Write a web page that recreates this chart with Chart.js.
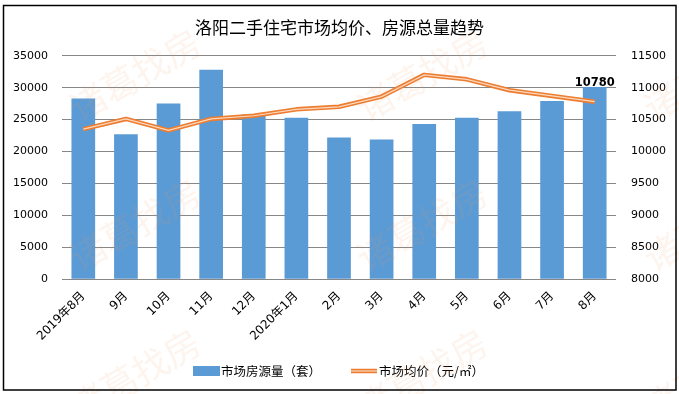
<!DOCTYPE html>
<html>
<head>
<meta charset="utf-8">
<script src="https://cdn.jsdelivr.net/npm/chart.js@4.4.1/dist/chart.umd.min.js"></script>
<style>
  html, body { margin: 0; padding: 0; background: #fff; }
  #wrap { width: 679px; height: 394px; position: relative; }
</style>
</head>
<body>
<div id="wrap"><canvas id="c" width="679" height="394"></canvas></div>
<script>
// ---- data ----
const categories = ['2019年8月', '9月', '10月', '11月', '12月', '2020年1月', '2月', '3月', '4月', '5月', '6月', '7月', '8月'];
const listingCounts = [28300, 22700, 27500, 32800, 25800, 25300, 22200, 21900, 24300, 25300, 26300, 27900, 30100];
const avgPrices = [10350, 10510, 10330, 10510, 10560, 10660, 10700, 10860, 11200, 11130, 10960, 10870, 10780];
const leftTicks = [0, 5000, 10000, 15000, 20000, 25000, 30000, 35000];
const rightTicks = [8000, 8500, 9000, 9500, 10000, 10500, 11000, 11500];
const titleText = '洛阳二手住宅市场均价、房源总量趋势';
const barLabel = '市场房源量（套）';
const lineLabel = '市场均价（元/㎡）';
const watermarkText = '诸葛找房';

const BLUE = '#5B9BD5';
const ORANGE = '#ED7D31';
const PALE = '#FBD9BF';
const NUMFONT = '"DejaVu Sans", "Noto Sans CJK SC", sans-serif';
const CJKFONT = '"Noto Sans CJK SC", "DejaVu Sans", sans-serif';

const frameAndMarks = {
  id: 'frameAndMarks',
  beforeDraw(chart) {
    const ctx = chart.ctx;
    ctx.save();
    ctx.fillStyle = '#fff';
    ctx.fillRect(0, 0, chart.width, chart.height);
    ctx.restore();
  },
  afterDatasetsDraw(chart) {
    const ctx = chart.ctx;
    const meta = chart.getDatasetMeta(1);
    const last = meta.data[meta.data.length - 1];
    ctx.save();
    ctx.font = 'bold 11.5px ' + NUMFONT;
    ctx.fillStyle = '#000';
    ctx.textAlign = 'center';
    ctx.textBaseline = 'middle';
    ctx.fillText(String(avgPrices[avgPrices.length - 1]), last.x, last.y - 19);
    ctx.restore();
  },
  afterDraw(chart) {
    const ctx = chart.ctx;
    ctx.save();
    // legend
    const ly = 371;
    ctx.fillStyle = BLUE;
    ctx.fillRect(193, ly - 5, 27, 10);
    ctx.lineCap = 'butt';
    ctx.strokeStyle = ORANGE; ctx.lineWidth = 4.5;
    ctx.beginPath(); ctx.moveTo(351, ly); ctx.lineTo(377, ly); ctx.stroke();
    ctx.strokeStyle = PALE; ctx.lineWidth = 1.2;
    ctx.beginPath(); ctx.moveTo(351, ly); ctx.lineTo(377, ly); ctx.stroke();
    ctx.font = '12.5px ' + CJKFONT;
    ctx.fillStyle = '#000';
    ctx.textAlign = 'left';
    ctx.textBaseline = 'middle';
    ctx.fillText(barLabel, 221, ly);
    ctx.fillText(lineLabel, 379, ly);
    // watermark tiles
    ctx.font = '36px ' + CJKFONT;
    ctx.fillStyle = 'rgba(246, 150, 90, 0.10)';
    ctx.textAlign = 'center';
    const xs = [135, 422, 709];
    const ys = [75, 225, 375];
    for (const cx of xs) for (const cy of ys) {
      ctx.save();
      ctx.translate(cx, cy);
      ctx.rotate(-30 * Math.PI / 180);
      ctx.fillText(watermarkText, 0, 0);
      ctx.restore();
    }
    // frame
    ctx.strokeStyle = '#000';
    ctx.lineWidth = 1.5;
    ctx.strokeRect(3.5, 5.5, 672.5, 384.5);
    ctx.restore();
  }
};

new Chart(document.getElementById('c'), {
  data: {
    labels: categories,
    datasets: [
      {
        type: 'bar', label: barLabel, data: listingCounts, yAxisID: 'y',
        backgroundColor: BLUE, borderWidth: 0,
        categoryPercentage: 1, barPercentage: 0.556, order: 3
      },
      {
        type: 'line', label: lineLabel, data: avgPrices, yAxisID: 'y1',
        borderColor: ORANGE, borderWidth: 4.5, pointRadius: 0, tension: 0,
        fill: false, order: 2, borderJoinStyle: 'round'
      },
      {
        type: 'line', label: '_inner', data: avgPrices, yAxisID: 'y1',
        borderColor: PALE, borderWidth: 1.2, pointRadius: 0, tension: 0,
        fill: false, order: 1
      }
    ]
  },
  options: {
    responsive: false,
    animation: false,
    events: [],
    layout: { padding: { left: 0, right: 0, top: 0, bottom: 0 } },
    plugins: {
      tooltip: { enabled: false },
      legend: { display: false },
      title: {
        display: true, text: titleText, color: '#000',
        font: { family: CJKFONT, size: 17, weight: 'normal', lineHeight: 1.2 },
        padding: { top: 17, bottom: 18.3 }
      }
    },
    scales: {
      x: {
        type: 'category',
        grid: { display: false, drawTicks: false },
        border: { display: false },
        ticks: {
          color: '#000', font: { family: NUMFONT, size: 12 },
          minRotation: 45, maxRotation: 45, padding: 10, autoSkip: false
        },
        afterFit(scale) { scale.height = 394 - 279.3; }
      },
      y: {
        position: 'left', min: 0, max: 35000,
        afterBuildTicks(scale) { scale.ticks = leftTicks.map(v => ({ value: v })); },
        grid: { color: '#878787', lineWidth: 1, drawTicks: false },
        border: { display: false },
        ticks: { color: '#000', font: { family: NUMFONT, size: 11 }, padding: 14, callback: v => String(v) },
        afterFit(scale) { scale.width = 62; }
      },
      y1: {
        position: 'right', min: 8000, max: 11500,
        afterBuildTicks(scale) { scale.ticks = rightTicks.map(v => ({ value: v })); },
        grid: { display: false, drawTicks: false },
        border: { display: false },
        ticks: { color: '#000', font: { family: NUMFONT, size: 11 }, padding: 15, callback: v => String(v) },
        afterFit(scale) { scale.width = 63; }
      }
    }
  },
  plugins: [frameAndMarks]
});
</script>
</body>
</html>
